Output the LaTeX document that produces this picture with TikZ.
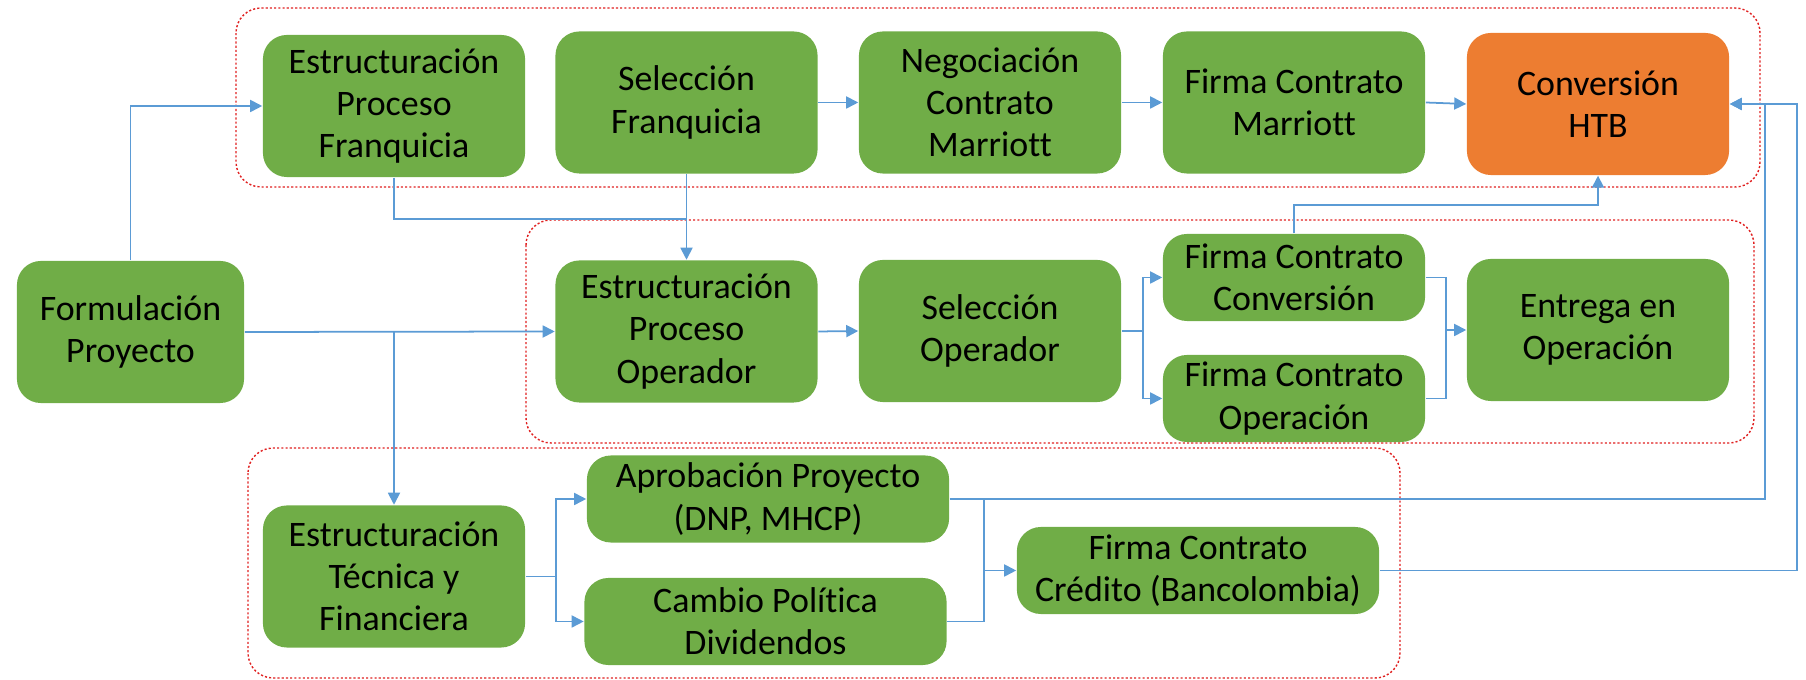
\documentclass[tikz,border=0pt]{standalone}
\usepackage{fontspec}
\setmainfont{Carlito}[Ligatures=NoCommon]
\usetikzlibrary{arrows.meta}
\definecolor{stagegreen}{HTML}{70AD47}
\definecolor{stageorange}{HTML}{ED7D31}
\definecolor{flowblue}{HTML}{5B9BD5}
\definecolor{groupred}{HTML}{E02020}
\begin{document}
\begin{tikzpicture}[x=0.01cm, y=-0.01cm,
        stage/.style={fill=stagegreen, rounded corners=0.24cm, align=center, inner sep=0pt,
            minimum width=2.62cm, minimum height=1.42cm,
            font=\fontsize{10.2pt}{12pt}\selectfont},
        small/.style={stage, minimum height=0.87cm},
        wide/.style={small, minimum width=3.62cm},
        group/.style={draw=groupred, line width=0.4pt, dash pattern=on 0.6pt off 0.6pt, rounded corners=0.25cm},
        flowline/.style={draw=flowblue, line width=0.5pt},
        flow/.style={flowline, -{Triangle[length=0.12cm, width=0.12cm]}}]
    \useasboundingbox (0,0) rectangle (1806,680);
    % grupos
    \draw[group] (236,8) rectangle (1760,187);
    \draw[group] (526,220) rectangle (1754,443);
    \draw[group] (248,448) rectangle (1400,678);
    % etapas
    \node[stage, minimum width=2.27cm] (form) at (130.5,332) {Formulación\\Proyecto};
    \node[stage] (epf) at (394,106) {Estructuración\\Proceso\\Franquicia};
    \node[stage] (self) at (686.5,102.5) {Selección\\Franquicia};
    \node[stage] (neg) at (990,102.5) {Negociación\\Contrato\\Marriott};
    \node[stage] (fcm) at (1294,102.5) {Firma Contrato\\Marriott};
    \node[stage, fill=stageorange] (conv) at (1598,104) {Conversión\\HTB};
    \node[stage] (epo) at (686.5,331.5) {Estructuración\\Proceso\\Operador};
    \node[stage] (selo) at (990,331) {Selección\\Operador};
    \node[small] (fcc) at (1294,277.5) {Firma Contrato\\Conversión};
    \node[small] (fco) at (1294,398.5) {Firma Contrato\\Operación};
    \node[stage] (ent) at (1598,330) {Entrega en\\Operación};
    \node[stage] (etf) at (394,576.5) {Estructuración\\Técnica y\\Financiera};
    \node[wide] (apr) at (768,499) {Aprobación Proyecto\\(DNP, MHCP)};
    \node[wide] (cam) at (765.5,621.5) {Cambio Política\\Dividendos};
    \node[wide] (cred) at (1198,570.5) {Firma Contrato\\Crédito (Bancolombia)};
    % puntos de paso
    \coordinate (jf) at (686.5,219);
    \coordinate (jo) at (1143,331);
    \coordinate (jc) at (1446,330);
    \coordinate (jh) at (1294,205);
    \coordinate (jt) at (556,576.5);
    \coordinate (jk) at (984,570.5);
    \coordinate (ja) at (1765,499);
    \coordinate (jb) at (1797,570.5);
    % conexiones
    \draw[flow] (form.north) |- (epf.west);
    \draw[flowline] (epf.south) |- (jf);
    \draw[flow] (self.south) -- (epo.north);
    \draw[flow] (self.east) -- (neg.west);
    \draw[flow] (neg.east) -- (fcm.west);
    \draw[flow] (fcm.east) -- (conv.west);
    \draw[flow] (form.east) -- (epo.west);
    \draw[flow] (form.east -| etf.north) -- (etf.north);
    \draw[flow] (epo.east) -- (selo.west);
    \draw[flow] (selo.east) -- (jo) |- (fcc.west);
    \draw[flow] (jo) |- (fco.west);
    \draw[flowline] (fcc.east) -| (jc) |- (fco.east);
    \draw[flow] (jc) -- (ent.west);
    \draw[flow] (fcc.north) -- (jh) -| (conv.south);
    \draw[flow] (etf.east) -- (jt) |- (apr.west);
    \draw[flow] (jt) |- (cam.west);
    \draw[flow] (apr.east) -| (jk) -- (cred.west);
    \draw[flowline] (cam.east) -| (jk);
    \draw[flow] (apr.east) -- (ja) |- (conv.east);
    \draw[flow] (cred.east) -- (jb) |- (conv.east);
\end{tikzpicture}
\end{document}
